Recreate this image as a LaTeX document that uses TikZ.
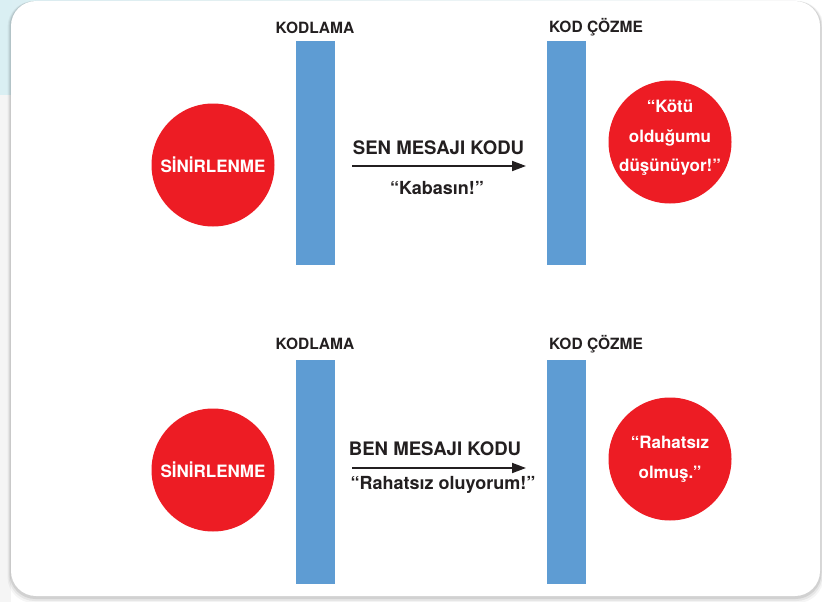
\documentclass[tikz,border=0pt]{standalone}
\usepackage{fontspec}
\setmainfont{TeX Gyre Heros}
\usetikzlibrary{arrows.meta}
\definecolor{cred}{HTML}{ED1C24}
\definecolor{cblue}{HTML}{5E9CD3}
\definecolor{ctext}{HTML}{231F20}
\definecolor{ccyan}{HTML}{DAEFF3}
\begin{document}
\begin{tikzpicture}[x=1pt,y=-1pt,
  bar/.style={fill=cblue, draw=none, rectangle, inner sep=0pt, minimum width=39pt, minimum height=224pt},
  emo/.style={circle, fill=cred, minimum size=123pt, inner sep=0pt, text=white, align=center,
              font=\bfseries\fontsize{17}{29.5}\selectfont},
  lab/.style={font=\bfseries\fontsize{15.5}{18}\selectfont, text=ctext, inner sep=0pt},
  code/.style={font=\bfseries\fontsize{18.6}{20}\selectfont, text=ctext, inner sep=0pt},
  msg/.style={font=\bfseries\fontsize{18}{20}\selectfont, text=ctext, inner sep=0pt},
  arr/.style={-{Triangle[length=14pt,width=10pt]}, line width=1.8pt, draw=ctext}]
\useasboundingbox (0,0) rectangle (822,602);
% background
\fill[white] (0,0) rectangle (822,602);
\shade[left color=ccyan, right color=white] (0,0) rectangle (822,95);
\fill[black!4] (0,95) rectangle (11,602);
% card shadow
\foreach \o/\op in {7/0.04,5/0.06,3/0.09}{
  \fill[black, opacity=\op, rounded corners=26pt] (11-\o/2,1) rectangle (820+\o/2,596+\o);
}
\fill[white, rounded corners=25pt] (11,1) rectangle (820,596);

% ---- top row ----
\node[lab] (kod1) at (315,27.5) {KODLAMA};
\node[lab] (coz1) at (596,27.5) {KOD ÇÖZME};
\node[bar] (enc1) at (315.5,153) {};
\node[bar] (dec1) at (566.5,153) {};
\node[emo] (src1) at (213,165) {SİNİRLENME};
\node[emo] (dst1) at (670,142) {};
\node[emo, fill=none] (dst1t) at (670,138) {“Kötü\\olduğumu\\düşünüyor!”};
\coordinate (a1s) at (352,166);
\coordinate (a1e) at (526,166);
\draw[arr] (a1s) -- (a1e);
\node[code] (c1) at (438.5,148) {SEN MESAJI KODU};
\node[msg] (m1) at (437,188) {“Kabasın!”};

% ---- bottom row ----
\node[lab] (kod2) at (315,344) {KODLAMA};
\node[lab] (coz2) at (596,344) {KOD ÇÖZME};
\node[bar] (enc2) at (315.5,472) {};
\node[bar] (dec2) at (566.5,472) {};
\node[emo] (src2) at (213,470) {SİNİRLENME};
\node[emo] (dst2) at (670,459) {“Rahatsız\\olmuş.”};
\coordinate (a2s) at (352,468);
\coordinate (a2e) at (526,468);
\draw[arr] (a2s) -- (a2e);
\node[code] (c2) at (435,449) {BEN MESAJI KODU};
\node[msg] (m2) at (443,485) {“Rahatsız oluyorum!”};
\end{tikzpicture}
\end{document}
